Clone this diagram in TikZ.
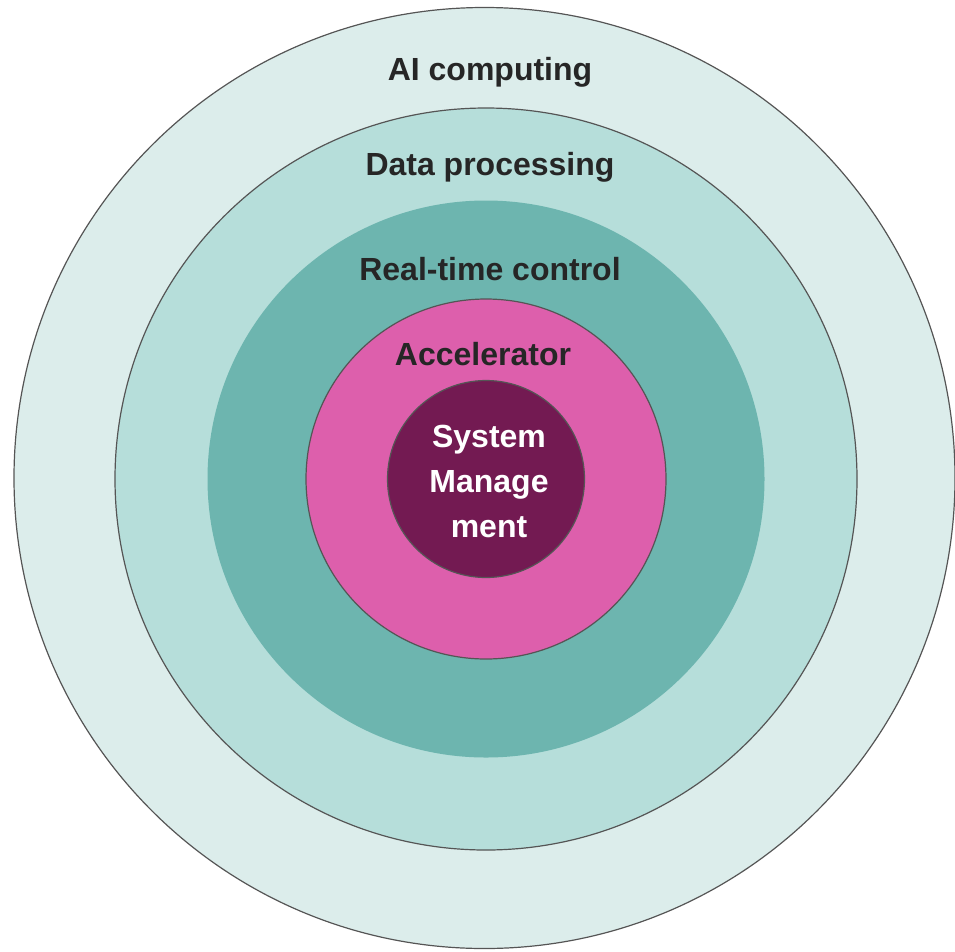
\documentclass[tikz,border=0pt]{standalone}
\usepackage{fontspec}
\setmainfont{Liberation Sans}
\usepackage{tikz}
\usetikzlibrary{positioning}

\definecolor{ringA}{HTML}{DCEDEB}
\definecolor{ringB}{HTML}{B6DEDA}
\definecolor{ringC}{HTML}{6DB5AF}
\definecolor{ringD}{HTML}{DD5FAC}
\definecolor{ringE}{HTML}{731A52}
\definecolor{rim}{HTML}{555555}

\tikzset{
  ring/.style={draw=rim, line width=1.2pt},
  lbl/.style={font=\fontsize{32}{45}\selectfont\bfseries, text=black!85, inner sep=0pt}
}

\begin{document}
\begin{tikzpicture}[x=1pt,y=-1pt]
            \useasboundingbox (0,0) rectangle (955,951);
            \coordinate (c) at (486,479);
            % rings, outside in
            \filldraw[ring, fill=ringA] (484.5,478) circle (470.5);
            \filldraw[ring, fill=ringB] (c) circle (371);
            \fill[ringC] (c) circle (278.5);
            \filldraw[ring, fill=ringD] (c) circle (180);
            \filldraw[ring, fill=ringE] (c) circle (98.5);
            % ring labels
            \node[lbl] (ai) at (490,72) {AI computing};
            \node[lbl] (data) at (490,167) {Data processing};
            \node[lbl] (rt) at (490,269) {Real-time control};
            \node[lbl] (acc) at (483,354) {Accelerator};
            \node[lbl, text=white, align=center] (sys) at (489,481) {System\\Manage\\ment};
          \end{tikzpicture}
\end{document}
